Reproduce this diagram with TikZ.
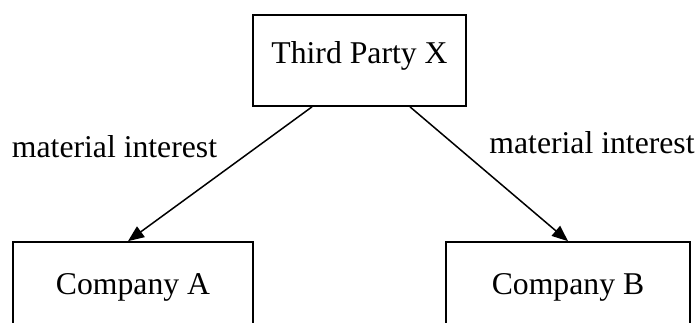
\documentclass[tikz,border=0pt]{standalone}
\usepackage{fontspec}
\setmainfont{Liberation Serif}
\usetikzlibrary{arrows.meta}
\begin{document}
\begin{tikzpicture}[x=1pt,y=-1pt,
  box/.style={draw,line width=1.7pt,font=\fontsize{31.7}{38}\selectfont,text height=0.66em,text depth=0pt,inner sep=0pt},
  lbl/.style={font=\fontsize{31.7}{38}\selectfont,inner sep=0pt,anchor=base},
  arr/.style={line width=1.5pt,-{Triangle[length=16pt,width=13pt]}}]
\useasboundingbox (0,0) rectangle (698,323);
\clip (0,0) rectangle (698,323);
\node[box,minimum width=213pt,minimum height=91pt] (x) at (359.5,60.5) {Third Party X};
\node[box,minimum width=240pt,minimum height=99pt] (a) at (133,291.5) {Company A};
\node[box,minimum width=244pt,minimum height=99pt] (b) at (568,291.5) {Company B};
\draw[arr] ([xshift=-47.5pt]x.south) -- ([xshift=-5pt]a.north);
\draw[arr] ([xshift=50.5pt]x.south) -- (b.north);
\node[lbl] (l1) at (114.5,157.7) {material interest};
\node[lbl] (l2) at (592,154) {material interest};
\end{tikzpicture}
\end{document}
